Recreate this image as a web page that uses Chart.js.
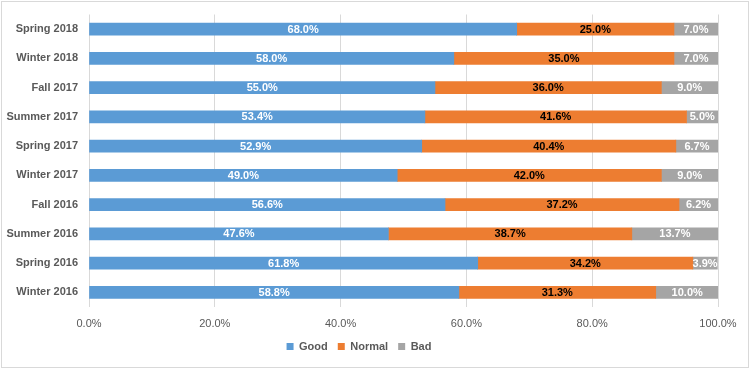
<!DOCTYPE html>
<html>
<head>
<meta charset="utf-8">
<script src="https://cdn.jsdelivr.net/npm/chart.js@4"></script>
<style>
  html, body { margin: 0; padding: 0; background: #fff; }
  #wrap { width: 756px; height: 370px; }
</style>
</head>
<body>
<div id="wrap"><canvas id="Survei" width="756" height="370"></canvas></div>
<script>
// kategori dari atas ke bawah
const kategori = ['Spring 2018', 'Winter 2018', 'Fall 2017', 'Summer 2017', 'Spring 2017',
                  'Winter 2017', 'Fall 2016', 'Summer 2016', 'Spring 2016', 'Winter 2016'];
const nilai_good   = [68.0, 58.0, 55.0, 53.4, 52.9, 49.0, 56.6, 47.6, 61.8, 58.8];
const nilai_normal = [25.0, 35.0, 36.0, 41.6, 40.4, 42.0, 37.2, 38.7, 34.2, 31.3];
const nilai_bad    = [7.0, 7.0, 9.0, 5.0, 6.7, 9.0, 6.2, 13.7, 3.9, 10.0];
const tick_x = [0, 20, 40, 60, 80, 100];

const warna_label = ['#ffffff', '#000000', '#ffffff'];
const font_utama = '"Liberation Sans", Arial, sans-serif';

// label nilai di tengah tiap batang
const labelBatang = {
    id: 'labelBatang',
    afterDatasetsDraw(chart) {
        const ctx = chart.ctx;
        ctx.save();
        ctx.font = 'bold 11px ' + font_utama;
        ctx.textAlign = 'center';
        ctx.textBaseline = 'middle';
        chart.data.datasets.forEach(function (ds, i) {
            const meta = chart.getDatasetMeta(i);
            meta.data.forEach(function (bar, j) {
                ctx.fillStyle = warna_label[i];
                ctx.fillText(ds.data[j].toFixed(1) + '%', (bar.x + bar.base) / 2, bar.y + 0.5);
            });
        });
        ctx.restore();
    }
};

// bingkai luar
const bingkai = {
    id: 'bingkai',
    beforeDraw(chart) {
        const ctx = chart.ctx;
        ctx.save();
        ctx.fillStyle = '#fff';
        ctx.fillRect(0, 0, chart.width, chart.height);
        ctx.strokeStyle = '#d9d9d9';
        ctx.lineWidth = 1;
        ctx.strokeRect(1.5, 1.5, 747, 366);
        ctx.restore();
    }
};

new Chart(document.getElementById('Survei'), {
    type: 'bar',
    data: {
        labels: kategori,
        datasets: [
            { label: 'Good', data: nilai_good, backgroundColor: '#5b9bd5', barThickness: 12 },
            { label: 'Normal', data: nilai_normal, backgroundColor: '#ed7d31', barThickness: 12 },
            { label: 'Bad', data: nilai_bad, backgroundColor: '#a5a5a5', barThickness: 12 }
        ]
    },
    options: {
        indexAxis: 'y',
        responsive: false,
        animation: false,
        layout: { padding: { top: 14.5, right: 38, bottom: 8, left: 0 } },
        plugins: {
            legend: {
                position: 'bottom',
                labels: {
                    boxWidth: 7,
                    boxHeight: 7,
                    padding: 10,
                    color: '#595959',
                    font: { family: font_utama, size: 11, weight: 'bold' }
                }
            },
            tooltip: { enabled: false }
        },
        scales: {
            x: {
                stacked: true,
                min: 0,
                max: 100,
                afterBuildTicks(scale) {
                    scale.ticks = tick_x.map(v => ({ value: v }));
                },
                afterFit(scale) { scale.height = 24; },
                grid: { color: '#d9d9d9', drawTicks: false },
                border: { display: false },
                ticks: {
                    padding: 10,
                    color: '#595959',
                    font: { family: font_utama, size: 11 },
                    callback: v => v.toFixed(1) + '%'
                }
            },
            y: {
                stacked: true,
                afterFit(scale) {
                    scale.width = 89;
                    scale.paddingTop = 0;
                    scale.paddingBottom = 0;
                },
                grid: { display: false, drawTicks: false },
                border: { display: false },
                ticks: {
                    padding: 11,
                    color: '#595959',
                    font: { family: font_utama, size: 11, weight: 'bold' }
                }
            }
        }
    },
    plugins: [bingkai, labelBatang]
});
</script>
</body>
</html>
